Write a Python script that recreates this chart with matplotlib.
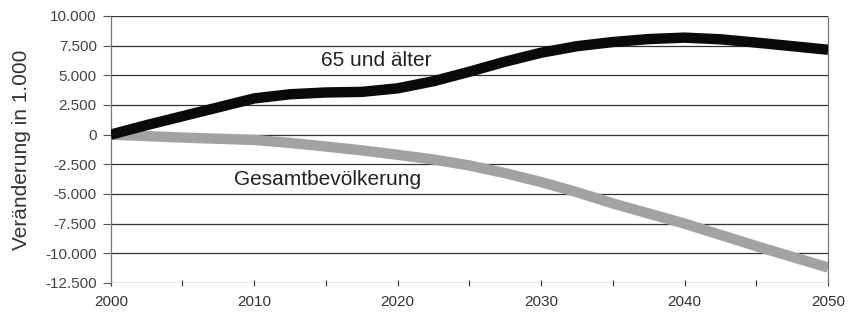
import numpy as np
import matplotlib.pyplot as plt

# values (change since 2000, in 1,000)
years = [2000, 2002.5, 2005, 2007.5, 2010, 2012.5, 2015, 2017.5, 2020, 2022.5, 2025,
         2027.5, 2030, 2032.5, 2035, 2037.5, 2040, 2042.5, 2045, 2047.5, 2050]
aged_65 = [0, 800, 1550, 2300, 3050, 3400, 3550, 3600, 3900, 4500, 5300,
           6150, 6900, 7450, 7800, 8050, 8170, 8030, 7750, 7450, 7150]
total_pop = [0, -120, -250, -350, -450, -700, -1000, -1330, -1700, -2100, -2600,
             -3250, -4000, -4850, -5800, -6650, -7500, -8450, -9400, -10300, -11200]

y_ticks = [10000, 7500, 5000, 2500, 0, -2500, -5000, -7500, -10000, -12500]
y_tick_labels = ["10.000", "7.500", "5.000", "2.500", "0", "-2.500", "-5.000",
                 "-7.500", "-10.000", "-12.500"]
x_ticks = [2000, 2010, 2020, 2030, 2040, 2050]

plt.rcParams["font.family"] = ["Liberation Sans", "DejaVu Sans"]

fig = plt.figure(figsize=(8.52, 3.12), dpi=100)
ax = fig.add_axes([0.130, 0.093, 0.842, 0.856])

for y in y_ticks:
    ax.axhline(y, color="#333333", lw=0.9, zorder=1)

ax.plot(years, total_pop, color="#a2a2a2", lw=7.5, solid_capstyle="butt", zorder=2)
ax.plot(years, aged_65, color="#0a0a0a", lw=7.5, solid_capstyle="butt", zorder=3)

ax.text(2018.5, 6250, "65 und älter", fontsize=15, ha="center", va="center", color="#222222")
ax.text(2015.1, -3750, "Gesamtbevölkerung", fontsize=15, ha="center", va="center", color="#222222")

ax.set_xlim(2000, 2050)
ax.set_ylim(-12500, 10000)
ax.set_xticks(x_ticks)
ax.set_xticks(np.arange(2005, 2050, 10), minor=True)
ax.set_yticks(y_ticks)
ax.set_yticklabels(y_tick_labels)
ax.tick_params(axis="y", length=6, width=0.8, color="#555555", labelsize=11,
               labelcolor="#444444", pad=4)
ax.tick_params(axis="x", which="both", direction="inout", length=5, width=0.8,
               color="#333333", labelsize=11, labelcolor="#333333", pad=6)

ax.set_ylabel("Veränderung in 1.000", fontsize=15, color="#333333", labelpad=10)

for side in ["top", "bottom"]:
    ax.spines[side].set_visible(False)
for side in ["left", "right"]:
    ax.spines[side].set_color("#777777")
    ax.spines[side].set_linestyle((0, (1, 1)))
    ax.spines[side].set_linewidth(0.9)

fig.savefig("out.png", dpi=100, facecolor="white")
